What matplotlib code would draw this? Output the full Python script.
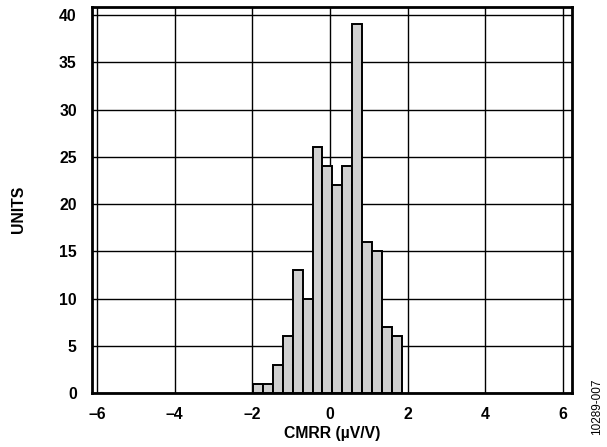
import matplotlib.pyplot as plt
import numpy as np

# histogram data
bin_start = -1.98
bin_width = 0.255
counts = [1, 1, 3, 6, 13, 10, 26, 24, 22, 24, 39, 16, 15, 7, 6]
xticks = [-6, -4, -2, 0, 2, 4, 6]
yticks = [0, 5, 10, 15, 20, 25, 30, 35, 40]

plt.rcParams['font.family'] = ['Liberation Sans', 'DejaVu Sans']

fig = plt.figure(figsize=(6.07, 4.47), dpi=100)
ax = fig.add_axes([0.1516, 0.1208, 0.7907, 0.8635])

lefts = bin_start + bin_width * np.arange(len(counts))
ax.bar(lefts, counts, width=bin_width, align='edge', color='#d0d0d0',
       edgecolor='black', linewidth=1.4, zorder=3)

ax.set_xlim(-6.13, 6.23)
ax.set_ylim(0, 40.85)
ax.set_xticks(xticks)
ax.set_yticks(yticks)
ax.set_xticklabels([str(t).replace('-', '\u2013') for t in xticks],
                   fontsize=11.3, fontweight='bold')
ax.set_yticklabels([str(t) for t in yticks], fontsize=11.3, fontweight='bold')
ax.tick_params(length=0)
ax.tick_params(axis='y', pad=11)
ax.tick_params(axis='x', pad=10)

ax.grid(True, color='black', linewidth=1.0, zorder=0)
ax.set_axisbelow(True)
for s in ax.spines.values():
    s.set_linewidth(2)

ax.set_xlabel('CMRR (\u00b5V/V)', fontsize=11.3, fontweight='bold', labelpad=3)
ax.set_ylabel('UNITS', fontsize=11.3, fontweight='bold')
ax.yaxis.set_label_coords(-0.138, 0.475)

fig.text(0.983, 0.09, '10289-007', rotation=90, fontsize=8.5,
         ha='center', va='center')

fig.savefig('out.png', dpi=100)
